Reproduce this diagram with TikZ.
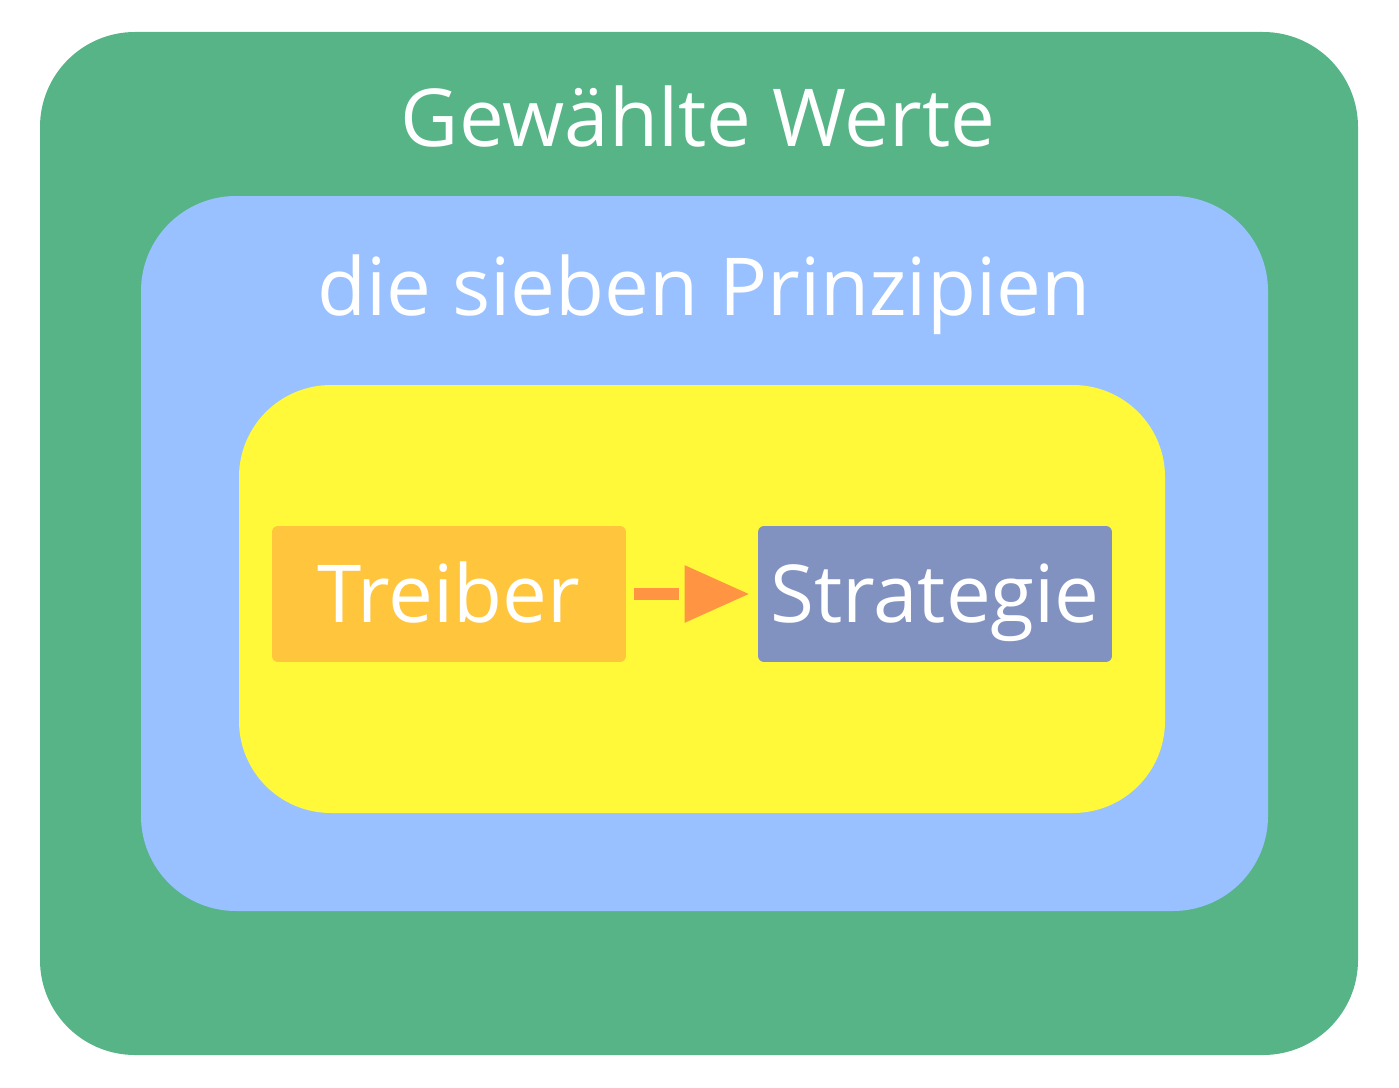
\documentclass[tikz,border=0pt]{standalone}
\usepackage{fontspec}
\setmainfont{Open Sans}
\usetikzlibrary{arrows.meta}
\definecolor{werteGreen}{RGB}{87,180,135}
\definecolor{prinzBlue}{RGB}{153,193,255}
\definecolor{innerYellow}{RGB}{255,249,58}
\definecolor{treiberOrange}{RGB}{255,197,61}
\definecolor{stratBlue}{RGB}{130,146,192}
\definecolor{arrowOrange}{RGB}{255,148,66}
\begin{document}
\begin{tikzpicture}[x=0.02cm, y=-0.02cm,
    bigtext/.style={text=white, font=\fontsize{45.5}{54}\selectfont},
    box/.style={bigtext, inner sep=0pt, rounded corners=0.12cm, minimum width=7.08cm, minimum height=2.72cm, text height=1.12cm, text depth=0pt}]
    \useasboundingbox (0, 0) rectangle (1399, 1088);
    \fill[werteGreen, rounded corners=1.9cm] (40, 32) rectangle (1358, 1055);
    \node[bigtext, anchor=base] (werte) at (698, 146) {Gewählte Werte};
    \fill[prinzBlue, rounded corners=1.9cm] (141, 196) rectangle (1268, 911);
    \node[bigtext, anchor=base] (prinz) at (704, 315) {die sieben Prinzipien};
    \fill[innerYellow, rounded corners=1.84cm] (239, 385) rectangle (1165, 813);
    \node[box, fill=treiberOrange] (treiber) at (449, 594) {Treiber};
    \node[box, fill=stratBlue] (strategie) at (935, 594) {Strategie};
    \draw[arrowOrange, line width=0.24cm, dash pattern=on 0.9cm off 0.16cm, dash phase=0.9cm, -{Triangle[length=1.3cm, width=1.08cm]}, shorten >=0.16cm] (treiber) -- (strategie);
  \end{tikzpicture}
\end{document}
